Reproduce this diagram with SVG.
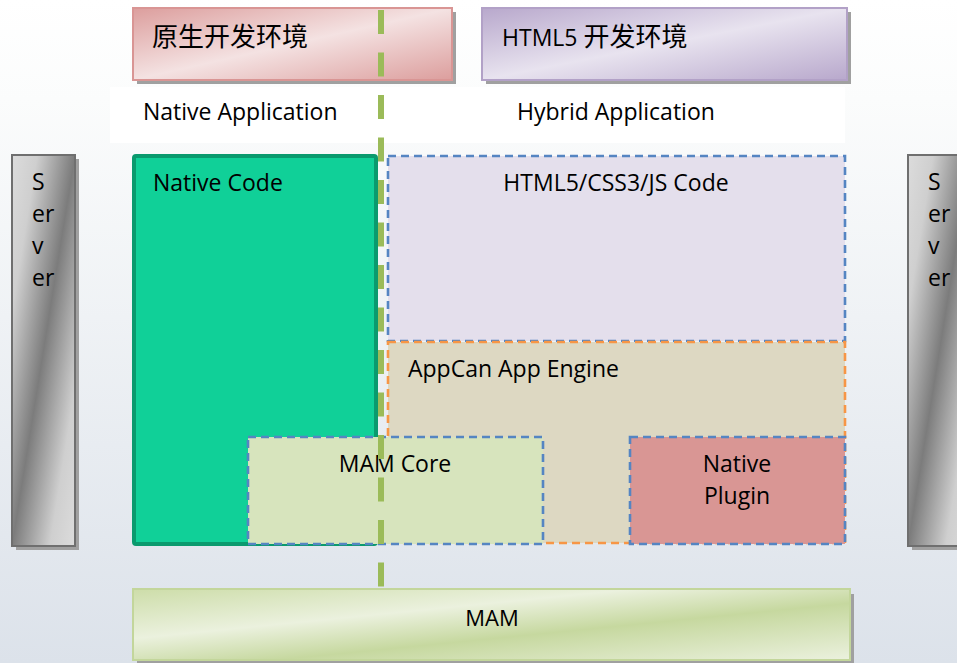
<svg xmlns="http://www.w3.org/2000/svg" width="957" height="663" viewBox="0 0 957 663">
<defs>
<linearGradient id="bg" x1="0" y1="0" x2="0" y2="1">
<stop offset="0" stop-color="#ffffff"/><stop offset="0.15" stop-color="#fbfcfc"/><stop offset="1" stop-color="#dce2ea"/>
</linearGradient>
<linearGradient id="gPink" x1="0" y1="0" x2="1" y2="1">
<stop offset="0" stop-color="#dc9e9d"/><stop offset="0.5" stop-color="#f4e2e2"/><stop offset="1" stop-color="#dc9e9d"/>
</linearGradient>
<linearGradient id="gPurple" x1="0" y1="0" x2="1" y2="1">
<stop offset="0" stop-color="#b8a8cc"/><stop offset="0.5" stop-color="#e8e3ef"/><stop offset="1" stop-color="#b8a8cc"/>
</linearGradient>
<linearGradient id="gServer" x1="0" y1="0" x2="1" y2="1">
<stop offset="0" stop-color="#dcdcdc"/><stop offset="0.2" stop-color="#cfcfcf"/><stop offset="0.5" stop-color="#7c7c7c"/><stop offset="0.8" stop-color="#cfcfcf"/><stop offset="1" stop-color="#dcdcdc"/>
</linearGradient>
<linearGradient id="gMam" x1="0" y1="0" x2="1" y2="1">
<stop offset="0" stop-color="#cddda9"/><stop offset="0.35" stop-color="#ebf1de"/><stop offset="0.6" stop-color="#c6d89f"/><stop offset="1" stop-color="#ebf1de"/>
</linearGradient>
</defs>
<style>
text{font-family:"Open Sans","Noto Sans CJK SC",sans-serif;fill:#000;font-size:23px}
.cjk{font-size:26px}
.shadow{fill:#a0a0a0}
.dashB{stroke:#5585c2;stroke-width:2.6;stroke-dasharray:8 5}
.dashO{stroke:#f79646;stroke-width:2.6;stroke-dasharray:8 5}
.mid{text-anchor:middle}
</style>
<rect x="0" y="0" width="957" height="663" fill="url(#bg)"/>
<rect x="110" y="87" width="735" height="56" fill="#ffffff"/>

<g id="native-env">
<rect class="shadow" x="137" y="12" width="319" height="72"/>
<rect x="133" y="8" width="319" height="72" fill="url(#gPink)" stroke="#d99594" stroke-width="2"/>
<text x="152" y="46" class="cjk">原生开发环境</text>
</g>
<g id="html5-env">
<rect class="shadow" x="486" y="12" width="365" height="72"/>
<rect x="482" y="8" width="365" height="72" fill="url(#gPurple)" stroke="#b2a1c7" stroke-width="2"/>
<text x="502" y="46">HTML5 <tspan class="cjk">开发环境</tspan></text>
</g>
<g id="native-app-label"><text x="143" y="120">Native Application</text></g>
<g id="hybrid-app-label"><text x="517" y="120">Hybrid Application</text></g>

<g id="server-left">
<rect class="shadow" x="16" y="159" width="63" height="391"/>
<rect x="12" y="155" width="63" height="391" fill="url(#gServer)" stroke="#6f6f6f" stroke-width="2"/>
<text x="32" y="190">S</text><text x="32" y="222">er</text><text x="32" y="254">v</text><text x="32" y="286">er</text>
</g>
<g id="server-right">
<rect class="shadow" x="912" y="159" width="63" height="391"/>
<rect x="908" y="155" width="63" height="391" fill="url(#gServer)" stroke="#6f6f6f" stroke-width="2"/>
<text x="928" y="190">S</text><text x="928" y="222">er</text><text x="928" y="254">v</text><text x="928" y="286">er</text>
</g>

<g id="native-code">
<rect x="134" y="156" width="242" height="388" rx="2" fill="#10d098" stroke="#0a9a6e" stroke-width="4"/>
<text x="153" y="191">Native Code</text>
</g>
<g id="html5-code">
<rect x="388" y="156" width="457" height="185" fill="#e4dfec" class="dashB"/>
<text x="616" y="191" class="mid">HTML5/CSS3/JS Code</text>
</g>
<g id="appcan-engine">
<rect x="388" y="342" width="457" height="201" fill="#ddd8c2" class="dashO"/>
<text x="408" y="377">AppCan App Engine</text>
</g>
<g id="mam-core">
<rect x="248" y="437" width="295" height="107" fill="#d7e4bd" class="dashB"/>
<text x="395" y="472" class="mid">MAM Core</text>
</g>
<g id="native-plugin">
<rect x="630" y="437" width="215" height="107" fill="#d99694" class="dashB"/>
<text x="737" y="472" class="mid">Native</text>
<text x="737" y="504" class="mid">Plugin</text>
</g>
<g id="mam">
<rect class="shadow" x="137" y="594" width="717" height="70"/>
<rect x="133" y="589" width="717" height="71" fill="url(#gMam)" stroke="#c3d69b" stroke-width="2"/>
<text x="492" y="626" class="mid" style="font-family:'Liberation Sans Narrow','Open Sans',sans-serif;font-size:22px">MAM</text>
</g>

<g id="connectors">
<line x1="381" y1="10" x2="381" y2="588" stroke="#9bbb59" stroke-width="6" stroke-dasharray="24 18.5"/>
</g>
</svg>
